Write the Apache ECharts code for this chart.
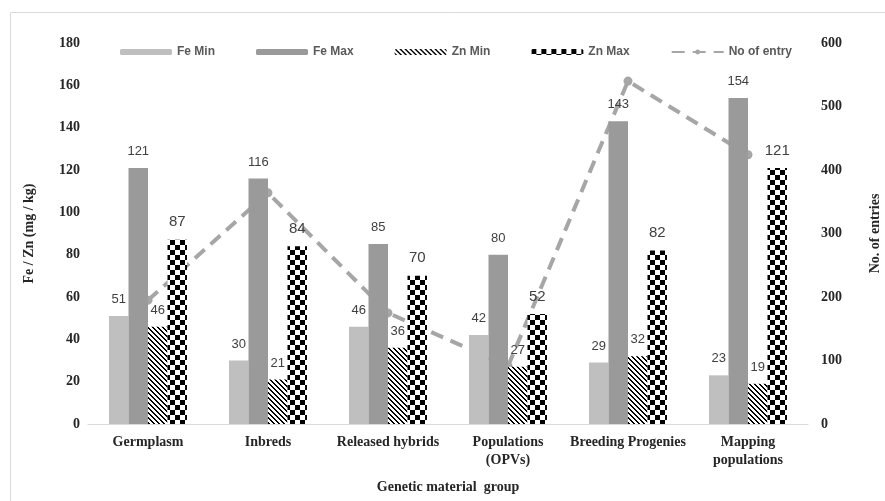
<!DOCTYPE html>
<html>
<head>
<meta charset="utf-8">
<script src="https://cdn.jsdelivr.net/npm/echarts@6/dist/echarts.min.js"></script>
<style>
  html, body { margin: 0; padding: 0; background: #fff; }
  #chart { width: 885px; height: 501px; }
</style>
</head>
<body>
<div id="chart"></div>
<script>
const categories = ['Germplasm', 'Inbreds', 'Released hybrids', 'Populations\n(OPVs)', 'Breeding Progenies', 'Mapping\npopulations'];
const feMin = [51, 30, 46, 42, 29, 23];
const feMax = [121, 116, 85, 80, 143, 154];
const znMin = [46, 21, 36, 27, 32, 19];
const znMax = [87, 84, 70, 52, 82, 121];
const entries = [195, 364, 175, 91, 540, 424];

// small pixel patterns for the Zn bars
function makePattern(size, isInk) {
  const c = document.createElement('canvas');
  c.width = size; c.height = size;
  const ctx = c.getContext('2d');
  ctx.fillStyle = '#fff';
  ctx.fillRect(0, 0, size, size);
  ctx.fillStyle = '#000';
  for (let y = 0; y < size; y++) {
    for (let x = 0; x < size; x++) {
      if (isInk(x, y)) ctx.fillRect(x, y, 1, 1);
    }
  }
  return c;
}
const hatch = makePattern(5, (x, y) => (((x - y) % 5) + 5) % 5 < 2);
const checker = makePattern(10, (x, y) => (Math.floor(x / 5) + Math.floor(y / 5)) % 2 === 0);

const serifBold = { fontFamily: 'Liberation Serif', fontWeight: 'bold', fontSize: 14, color: '#262626' };

function barLabel(size) {
  return { show: true, position: 'top', distance: 10, fontFamily: 'Liberation Sans', fontSize: size, color: '#404040' };
}

const chart = echarts.init(document.getElementById('chart'));
chart.setOption({
  animation: false,
  grid: { left: 88, right: 77, top: 43, bottom: 77, outerBoundsMode: 'none' },
  graphic: [{
    type: 'rect', silent: true, z: -10,
    shape: { x: 10.5, y: 12.5, width: 900, height: 600 },
    style: { fill: 'none', stroke: '#d9d9d9', lineWidth: 1 }
  }],
  legend: {
    left: 115, top: 41, itemGap: 41, itemWidth: 52, itemHeight: 6,
    textStyle: { fontFamily: 'Liberation Sans', fontWeight: 'bold', fontSize: 12, color: '#595959' },
    data: ['Fe Min', 'Fe Max', 'Zn Min', 'Zn Max', 'No of entry']
  },
  xAxis: {
    type: 'category', data: categories,
    name: 'Genetic material  group', nameLocation: 'middle', nameGap: 56,
    nameTextStyle: serifBold,
    axisLine: { lineStyle: { color: '#d9d9d9' } },
    axisTick: { show: false },
    axisLabel: Object.assign({ margin: 9, lineHeight: 18, interval: 0 }, serifBold)
  },
  yAxis: [{
    type: 'value', min: 0, max: 180, interval: 20,
    name: 'Fe / Zn (mg / kg)', nameLocation: 'middle', nameGap: 52,
    nameTextStyle: serifBold,
    splitLine: { show: false }, axisLine: { show: false }, axisTick: { show: false },
    axisLabel: Object.assign({ margin: 8 }, serifBold)
  }, {
    type: 'value', min: 0, max: 600, interval: 100,
    name: 'No. of entries', nameLocation: 'middle', nameGap: 60,
    nameTextStyle: serifBold,
    splitLine: { show: false }, axisLine: { show: false }, axisTick: { show: false },
    axisLabel: Object.assign({ margin: 13 }, serifBold)
  }],
  series: [
    { name: 'Fe Min', type: 'bar', data: feMin, barWidth: 19.5, barGap: '0%', z: 3,
      itemStyle: { color: '#bfbfbf' }, label: barLabel(13) },
    { name: 'Fe Max', type: 'bar', data: feMax, barWidth: 19.5, barGap: '0%', z: 3,
      itemStyle: { color: '#9a9a9a' }, label: barLabel(13) },
    { name: 'Zn Min', type: 'bar', data: znMin, barWidth: 19.5, barGap: '0%', z: 3,
      itemStyle: { color: { image: hatch, repeat: 'repeat' } }, label: barLabel(13) },
    { name: 'Zn Max', type: 'bar', data: znMax, barWidth: 19.5, barGap: '0%', z: 3,
      itemStyle: { color: { image: checker, repeat: 'repeat' } }, label: barLabel(15) },
    { name: 'No of entry', type: 'line', yAxisIndex: 1, data: entries, z: 1,
      symbol: 'circle', symbolSize: 9,
      itemStyle: { color: '#a6a6a6' },
      lineStyle: { color: '#a6a6a6', width: 4, type: [13, 8] } }
  ]
});
</script>
</body>
</html>
